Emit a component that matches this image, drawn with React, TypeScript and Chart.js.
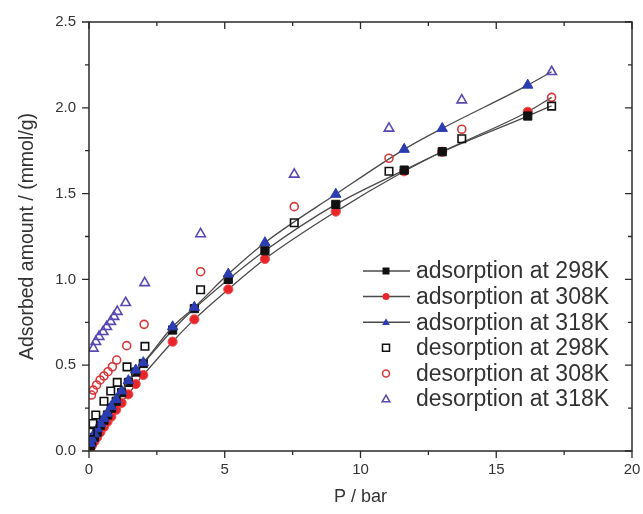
import { useEffect, useRef } from 'react';
import { Chart, registerables } from 'chart.js';
Chart.register(...registerables);

// Adsorption (filled markers, with fitted lines)
const adsP = [0.05, 0.1, 0.2, 0.3, 0.42, 0.55, 0.68, 0.82, 1.0, 1.2, 1.45, 1.72, 2.0, 3.08, 3.88, 5.13, 6.48, 9.09, 11.61, 13.01, 16.16, 17.04];
const ads298 = [0.03, 0.05, 0.08, 0.11, 0.15, 0.18, 0.21, 0.25, 0.29, 0.34, 0.40, 0.46, 0.51, 0.705, 0.83, 1.0, 1.167, 1.437, 1.637, 1.744, 1.952, 2.012];
const ads308 = [0.016, 0.03, 0.055, 0.08, 0.11, 0.14, 0.17, 0.2, 0.24, 0.28, 0.33, 0.39, 0.443, 0.637, 0.767, 0.942, 1.119, 1.395, 1.63, 1.744, 1.977, 2.061];
const ads318 = [0.045, 0.07, 0.1, 0.13, 0.16, 0.19, 0.22, 0.26, 0.30, 0.35, 0.41, 0.472, 0.515, 0.724, 0.837, 1.031, 1.214, 1.496, 1.758, 1.880, 2.132, 2.21];

// Desorption (open markers)
const des298P = [0.05, 0.15, 0.25, 0.55, 0.8, 1.04, 1.4, 2.06, 4.11, 7.56, 11.05, 13.73, 17.04];
const des298 = [0.11, 0.16, 0.21, 0.29, 0.35, 0.40, 0.49, 0.61, 0.94, 1.33, 1.63, 1.82, 2.01];
const des308P = [0.09, 0.16, 0.28, 0.41, 0.55, 0.70, 0.86, 1.02, 1.39, 2.03, 4.11, 7.56, 11.05, 13.73, 17.04];
const des308 = [0.326, 0.355, 0.385, 0.414, 0.437, 0.462, 0.491, 0.53, 0.614, 0.738, 1.045, 1.424, 1.706, 1.875, 2.061];
const des318P = [0.16, 0.25, 0.37, 0.52, 0.65, 0.80, 0.92, 1.04, 1.35, 2.05, 4.11, 7.56, 11.05, 13.73, 17.04];
const des318 = [0.598, 0.637, 0.666, 0.695, 0.724, 0.754, 0.783, 0.812, 0.864, 0.98, 1.265, 1.612, 1.88, 2.045, 2.21];

const legendLabels = [
  'adsorption at 298K',
  'adsorption at 308K',
  'adsorption at 318K',
  'desorption at 298K',
  'desorption at 308K',
  'desorption at 318K',
];

const BLACK = '#111111';
const RED = '#e8262a';
const BLUE = '#2b3db0';
const OPEN_RED = '#d8383a';
const OPEN_BLUE = '#5a48b0';
const LINE = '#4a4a4a';
const AXIS = '#2a2a2a';
const TEXT = '#333333';
const FONT = "'Liberation Sans', Arial, sans-serif";

const xy = (xs: number[], ys: number[]) => xs.map((x, i) => ({ x, y: ys[i] }));
const hideLast = (n: number, r: number) => Array.from({ length: n }, (_, i) => (i === n - 1 ? 0 : r));

function drawMarker(ctx: CanvasRenderingContext2D, style: string, x: number, y: number, r: number, color: string, filled: boolean) {
  ctx.save();
  ctx.beginPath();
  if (style === 'rect') {
    ctx.rect(x - r, y - r, 2 * r, 2 * r);
  } else if (style === 'circle') {
    ctx.arc(x, y, r, 0, Math.PI * 2);
  } else {
    ctx.moveTo(x, y - r * 1.1);
    ctx.lineTo(x + r * 1.1, y + r * 0.8);
    ctx.lineTo(x - r * 1.1, y + r * 0.8);
    ctx.closePath();
  }
  if (filled) {
    ctx.fillStyle = color;
    ctx.fill();
  } else {
    ctx.lineWidth = 1.5;
    ctx.strokeStyle = color;
    ctx.stroke();
  }
  ctx.restore();
}

const framePlugin = {
  id: 'frameTicks',
  afterDraw(chart: any) {
    const { ctx, chartArea, scales } = chart;
    const { left, right, top, bottom } = chartArea;
    ctx.save();
    ctx.strokeStyle = AXIS;
    ctx.lineWidth = 1.5;
    ctx.strokeRect(left, top, right - left, bottom - top);
    ctx.lineWidth = 1.3;
    for (let v = 0; v <= 20.001; v += 2.5) {
      const px = scales.x.getPixelForValue(v);
      const major = Math.abs(v / 5 - Math.round(v / 5)) < 1e-6;
      const len = major ? 7 : 4;
      ctx.beginPath();
      ctx.moveTo(px, bottom);
      ctx.lineTo(px, bottom + len);
      ctx.moveTo(px, top);
      ctx.lineTo(px, top + len);
      ctx.stroke();
    }
    for (let v = 0; v <= 2.5001; v += 0.25) {
      const py = scales.y.getPixelForValue(v);
      const major = Math.abs(v / 0.5 - Math.round(v / 0.5)) < 1e-6;
      const len = major ? 7 : 4;
      ctx.beginPath();
      ctx.moveTo(left - len, py);
      ctx.lineTo(left, py);
      ctx.moveTo(right - len, py);
      ctx.lineTo(right, py);
      ctx.stroke();
    }
    ctx.restore();
  },
};

const legendPlugin = {
  id: 'customLegend',
  afterDraw(chart: any) {
    const { ctx } = chart;
    const styles = [
      ['rect', BLACK, true],
      ['circle', RED, true],
      ['triangle', BLUE, true],
      ['rect', BLACK, false],
      ['circle', OPEN_RED, false],
      ['triangle', OPEN_BLUE, false],
    ] as [string, string, boolean][];
    const x0 = 363, x1 = 410, xm = 386, xt = 416;
    const y0 = 271, dy = 25.6;
    ctx.save();
    ctx.font = `23px ${FONT}`;
    ctx.textBaseline = 'middle';
    ctx.fillStyle = TEXT;
    legendLabels.forEach((label, i) => {
      const y = y0 + i * dy;
      const [st, col, filled] = styles[i];
      if (i < 3) {
        ctx.strokeStyle = LINE;
        ctx.lineWidth = 1.5;
        ctx.beginPath();
        ctx.moveTo(x0, y);
        ctx.lineTo(x1, y);
        ctx.stroke();
      }
      drawMarker(ctx, st, xm, y, 3.5, col, filled);
      ctx.fillStyle = TEXT;
      ctx.fillText(label, xt, y + 1);
    });
    ctx.restore();
  },
};

export default function App() {
  const ref = useRef<HTMLCanvasElement>(null);
  useEffect(() => {
    if (!ref.current) return;
    const n = adsP.length;
    const lineCommon = {
      showLine: true,
      borderColor: LINE,
      borderWidth: 1.3,
      cubicInterpolationMode: 'monotone' as const,
      pointBorderWidth: 1,
    };
    const chart = new Chart(ref.current, {
      type: 'scatter',
      data: {
        datasets: [
          {
            label: 'adsorption at 318K',
            data: xy(adsP, ads318),
            ...lineCommon,
            pointStyle: 'triangle',
            pointRadius: hideLast(n, 6),
            pointBackgroundColor: BLUE,
            pointBorderColor: BLUE,
            order: 1,
          },
          {
            label: 'adsorption at 298K',
            data: xy(adsP, ads298),
            ...lineCommon,
            pointStyle: 'rect',
            pointRadius: hideLast(n, 5.8),
            pointBackgroundColor: BLACK,
            pointBorderColor: BLACK,
            order: 2,
          },
          {
            label: 'adsorption at 308K',
            data: xy(adsP, ads308),
            ...lineCommon,
            pointStyle: 'circle',
            pointRadius: hideLast(n, 4.6),
            pointBackgroundColor: RED,
            pointBorderColor: '#f05050',
            order: 3,
          },
          {
            label: 'desorption at 298K',
            data: xy(des298P, des298),
            showLine: false,
            pointStyle: 'rect',
            pointRadius: 5.3,
            pointBorderWidth: 1.6,
            pointBackgroundColor: 'rgba(255,255,255,0)',
            pointBorderColor: BLACK,
            order: 0,
          },
          {
            label: 'desorption at 308K',
            data: xy(des308P, des308),
            showLine: false,
            pointStyle: 'circle',
            pointRadius: 4,
            pointBorderWidth: 1.6,
            pointBackgroundColor: 'rgba(255,255,255,0)',
            pointBorderColor: OPEN_RED,
            order: 0,
          },
          {
            label: 'desorption at 318K',
            data: xy(des318P, des318),
            showLine: false,
            pointStyle: 'triangle',
            pointRadius: 5.5,
            pointBorderWidth: 1.6,
            pointBackgroundColor: 'rgba(255,255,255,0)',
            pointBorderColor: OPEN_BLUE,
            order: 0,
          },
        ],
      },
      options: {
        animation: false,
        responsive: true,
        maintainAspectRatio: false,
        layout: { padding: { left: 0, right: 11, top: 22, bottom: 0 } },
        plugins: {
          legend: { display: false },
          tooltip: { enabled: false },
        },
        scales: {
          x: {
            type: 'linear',
            min: 0,
            max: 20,
            afterFit: (s: any) => { s.height = 63; s.paddingRight = 0; s.paddingLeft = 0; },
            ticks: {
              stepSize: 5,
              padding: 10,
              color: TEXT,
              font: { family: FONT, size: 15 },
            },
            grid: { display: false, drawTicks: false },
            border: { display: false },
            title: {
              display: true,
              text: 'P / bar',
              color: TEXT,
              font: { family: FONT, size: 18 },
              padding: { top: 0, bottom: 6 },
            },
          },
          y: {
            type: 'linear',
            min: 0,
            max: 2.5,
            afterFit: (s: any) => { s.width = 89; s.paddingTop = 0; s.paddingBottom = 0; },
            ticks: {
              stepSize: 0.5,
              padding: 13,
              color: TEXT,
              font: { family: FONT, size: 15 },
              callback: (v: any) => Number(v).toFixed(1),
            },
            grid: { display: false, drawTicks: false },
            border: { display: false },
            title: {
              display: true,
              text: 'Adsorbed amount / (mmol/g)',
              color: TEXT,
              font: { family: FONT, size: 19.5 },
              padding: { top: 16, bottom: 0 },
            },
          },
        },
      },
      plugins: [framePlugin, legendPlugin],
    });
    return () => chart.destroy();
  }, []);
  return (
    <div style={{ position: 'fixed', left: 0, top: 0, width: 643, height: 514, background: '#fff' }}>
      <canvas ref={ref} />
    </div>
  );
}
